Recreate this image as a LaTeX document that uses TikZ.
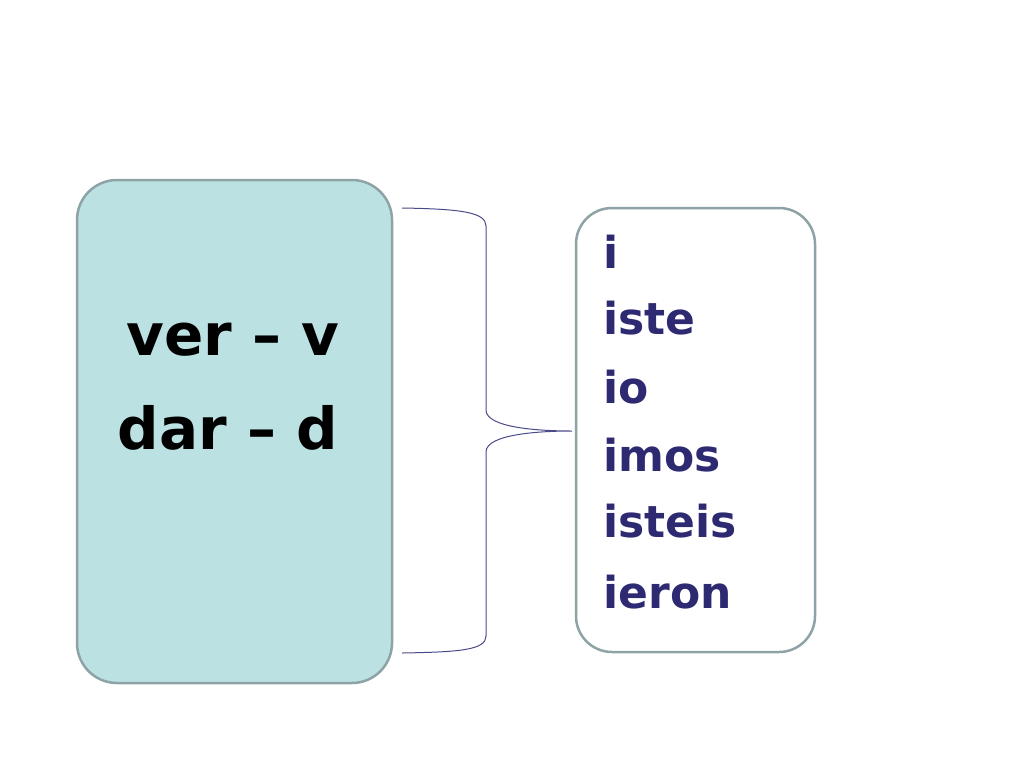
\documentclass[tikz,border=0pt]{standalone}
\usepackage{fontspec}
\setmainfont{DejaVu Sans}
\usetikzlibrary{positioning}
\definecolor{boxfill}{HTML}{BCE1E3}
\definecolor{boxline}{HTML}{8EA3A5}
\definecolor{endcol}{HTML}{2E2A72}
\definecolor{bracecol}{HTML}{4A4A8A}
\begin{document}
\begin{tikzpicture}[x=1pt,y=-1pt]

\tikzset{stembox/.style = {draw=boxline, line width=2.5pt, fill=boxfill, rounded corners=40pt}}
\tikzset{endbox/.style = {draw=boxline, line width=2.5pt, fill=white, rounded corners=36pt}}
\tikzset{stem/.style = {font=\fontsize{58}{70}\selectfont\bfseries, anchor=center}}
\tikzset{ending/.style = {font=\fontsize{44}{52}\selectfont\bfseries, text=endcol, anchor=west}}

\useasboundingbox (0,0) rectangle (1024,768);

% boxes
\draw[stembox] (77,180) rectangle (392,683);
\draw[endbox] (576,208) rectangle (815,652);

% stems
\node[stem] (ver) at (233,340) {ver -- v};
\node[stem] (dar) at (228,428) {dar -- d};

% endings
\node[ending] (e1) at (600,252) {i};
\node[ending] (e2) at (600,318) {iste};
\node[ending] (e3) at (600,387) {io};
\node[ending] (e4) at (600,455) {imos};
\node[ending] (e5) at (600,521) {isteis};
\node[ending] (e6) at (600,592) {ieron};

% brace
\coordinate (top) at (402,208);
\coordinate (tip) at (572,431);
\coordinate (bot) at (402,653);
\draw[bracecol, line width=1pt] (top) .. controls (460,209) and (486,212) .. (486,226)
  -- (486,410) .. controls (486,428) and (540,431) .. (tip)
  .. controls (540,431) and (486,434) .. (486,452)
  -- (486,636) .. controls (486,650) and (460,652) .. (bot);

\end{tikzpicture}
\end{document}
